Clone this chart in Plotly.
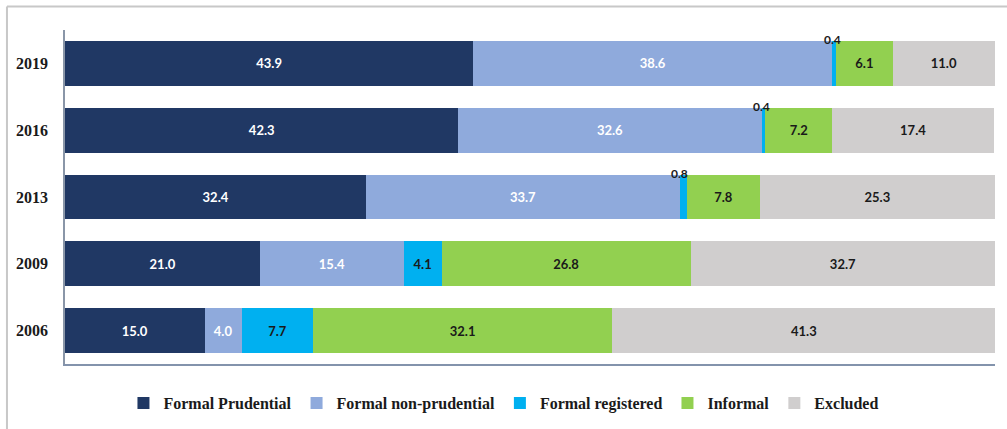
import plotly.graph_objects as go

years = ["2006", "2009", "2013", "2016", "2019"]
series_names = ["Formal Prudential", "Formal non-prudential", "Formal registered", "Informal", "Excluded"]
formal_prudential = [15.0, 21.0, 32.4, 42.3, 43.9]
formal_non_prudential = [4.0, 15.4, 33.7, 32.6, 38.6]
formal_registered = [7.7, 4.1, 0.8, 0.4, 0.4]
informal = [32.1, 26.8, 7.8, 7.2, 6.1]
excluded = [41.3, 32.7, 25.3, 17.4, 11.0]

values = [formal_prudential, formal_non_prudential, formal_registered, informal, excluded]
colors = ["#203864", "#8FAADC", "#00B0F0", "#92D050", "#D0CECE"]
text_colors = ["#FFFFFF", "#FFFFFF", "#1A1A1A", "#1A1A1A", "#1A1A1A"]

fig = go.Figure()
for name, vals, col, tcol in zip(series_names, values, colors, text_colors):
    fig.add_trace(go.Bar(
        y=years, x=vals, name=name, orientation="h",
        marker=dict(color=col, line=dict(width=0)),
        text=[f"{v:.1f}" if v >= 1 else "" for v in vals],
        textposition="inside", insidetextanchor="middle",
        textfont=dict(family="Lato", size=13, color=tcol, weight="bold"),
        textangle=0,
        hoverinfo="skip",
    ))

# small values shown above the bar (category index used as position)
annotations = []
for i, y in enumerate(years):
    v = formal_registered[i]
    if v < 1:
        start = formal_prudential[i] + formal_non_prudential[i]
        annotations.append(dict(
            x=start, y=i, xref="x", yref="y", text=f"{v:.1f}",
            showarrow=False, yshift=24, xanchor="center", yanchor="middle",
            font=dict(family="Lato", size=12, color="#1A1A1A", weight="bold"),
        ))

fig.update_layout(
    barmode="stack",
    bargap=0.33,
    width=1007, height=429,
    margin=dict(l=65, r=12, t=30, b=65, autoexpand=False),
    paper_bgcolor="white", plot_bgcolor="white",
    font=dict(family="Liberation Serif", color="#1A1A1A"),
    xaxis=dict(range=[0, 100], showticklabels=False, showgrid=False, zeroline=False,
               ticks="", showline=True, linecolor="#8393AC", linewidth=2, mirror=False,
               automargin=False),
    yaxis=dict(type="category", categoryorder="array", categoryarray=years,
               range=[-0.5, len(years) - 0.5], autorange=False,
               showgrid=False, zeroline=False, automargin=False,
               ticks="", showline=True, linecolor="#8A96A8", linewidth=1.5,
               tickfont=dict(family="Liberation Serif", size=16, color="#1A1A1A", weight="bold"),
               ticklabelstandoff=12),
    legend=dict(orientation="h", x=0.472, xanchor="center", y=-0.117, yanchor="middle",
                font=dict(family="Liberation Serif", size=16, color="#1A1A1A", weight="bold"),
                itemwidth=30, traceorder="normal", tracegroupgap=0),
    annotations=annotations,
    shapes=[
        dict(type="line", xref="paper", yref="paper", x0=-0.0624, x1=1.02, y0=1.0704, y1=1.0704,
             line=dict(color="#C8C8C8", width=2)),
        dict(type="line", xref="paper", yref="paper", x0=-0.0624, x1=-0.0624, y0=1.0704, y1=-0.2,
             line=dict(color="#C8C8C8", width=2)),
    ],
    showlegend=True,
)

fig.write_html("out.html", config={"displayModeBar": False},
               post_script="document.body.style.margin='0';")
